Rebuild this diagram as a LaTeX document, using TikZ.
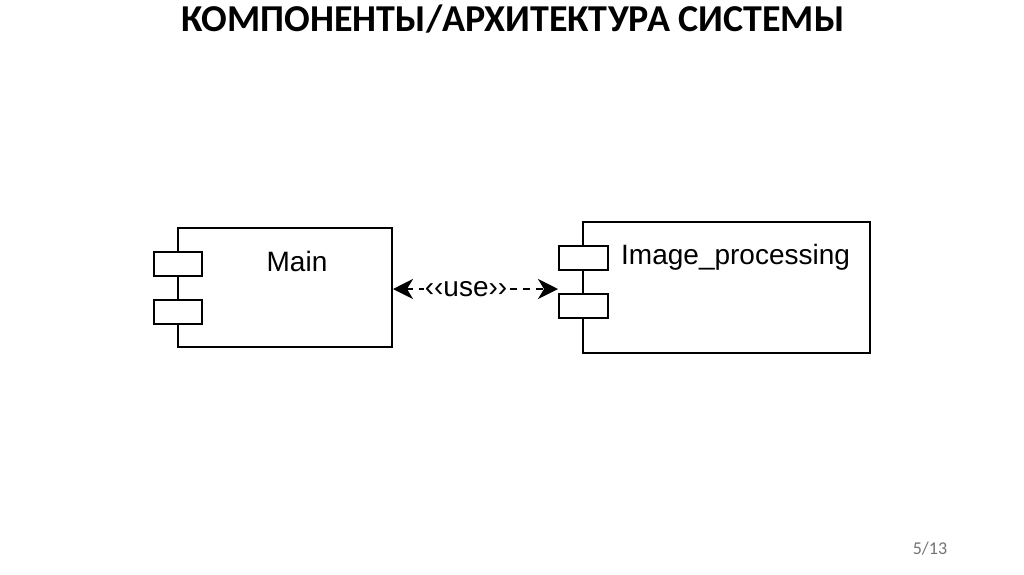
\documentclass[tikz,border=0pt]{standalone}
\usepackage{fontspec}
\setmainfont{Liberation Sans}
\newfontfamily\titlefont{Carlito}
\usetikzlibrary{arrows.meta}
\tikzset{
  comp/.style={draw=black, line width=2.8pt, fill=white, inner sep=0pt},
  port/.style={draw=black, line width=2.8pt, fill=white, inner sep=0pt},
  lbl/.style={font=\fontsize{28}{32}\selectfont, inner sep=0pt},
  tip/.tip={Stealth[length=20pt,width=20pt,inset=6pt]},
  dep/.style={line width=2.4pt, dash pattern=on 7pt off 6pt, tip-tip}
}
\begin{document}
\begin{tikzpicture}[x=1pt,y=-1pt]
\useasboundingbox (0,0) rectangle (1024,574);
\node[font=\titlefont\bfseries\fontsize{38}{40}\selectfont, inner sep=0pt] (title) at (513,19) {КОМПОНЕНТЫ/АРХИТЕКТУРА СИСТЕМЫ};
% Main component
\draw[comp] (178,228) rectangle (392,347);
\coordinate (mainE) at (393,289);
\draw[port] (154,252) rectangle (202,276);
\draw[port] (154,300) rectangle (202,324);
\node[lbl] (main) at (297,261) {Main};
% Image_processing component
\draw[comp] (583,222) rectangle (870,353);
\draw[port] (559,246) rectangle (608,270);
\draw[port] (559,294) rectangle (608,318);
\coordinate (imgW) at (558,289);
\node[lbl, anchor=west] (img) at (621,257) {Image\_processing};
% dependency
\draw[dep] (mainE) -- (imgW);
\node[fill=white, font=\fontsize{28}{30}\selectfont, inner sep=1pt] (use) at (466,289) {‹‹use››};
\node[font=\titlefont\fontsize{18}{20}\selectfont, text=black!55, inner sep=0pt] (page) at (930,549) {5/13};
\end{tikzpicture}
\end{document}
